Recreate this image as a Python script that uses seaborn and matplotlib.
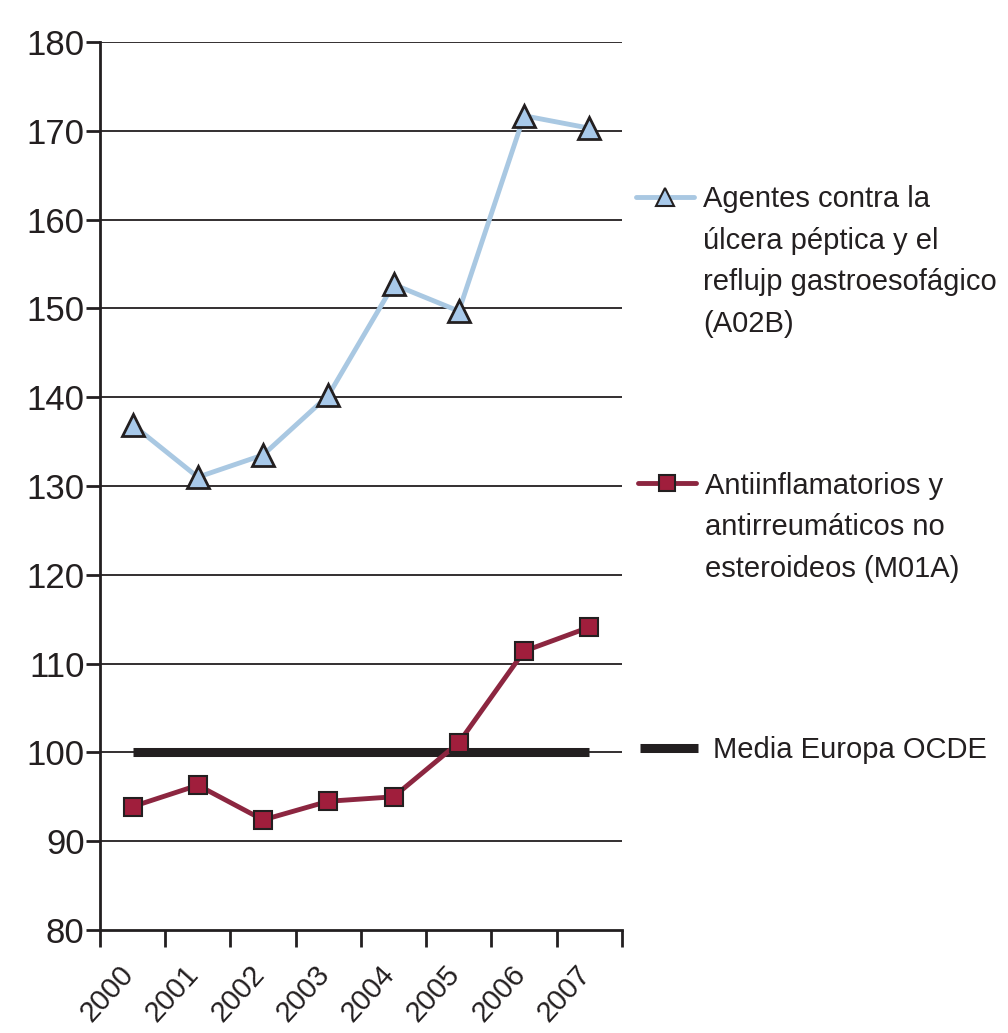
import numpy as np
import pandas as pd
import matplotlib
matplotlib.use("Agg")
import matplotlib.pyplot as plt
import matplotlib.transforms as mtransforms
from matplotlib.lines import Line2D
import seaborn as sns

# data
years = ["2000", "2001", "2002", "2003", "2004", "2005", "2006", "2007"]
a02b = [136.9, 131.0, 133.5, 140.2, 152.7, 149.7, 171.7, 170.3]
m01a = [93.9, 96.3, 92.4, 94.5, 95.0, 101.1, 111.4, 114.1]
media = [100, 100, 100, 100, 100, 100, 100, 100]
yticks = list(range(80, 181, 10))

label_a02b = ["Agentes contra la", "úlcera péptica y el",
              "reflujp gastroesofágico", "(A02B)"]
label_m01a = ["Antiinflamatorios y", "antirreumáticos no",
              "esteroideos (M01A)"]
label_media = ["Media Europa OCDE"]

blue_line = "#a9c8e2"
blue_fill = "#a8c9ea"
red_line = "#8c2640"
red_fill = "#a01e3c"
dark = "#231f20"

sns.set_style("white")
plt.rcParams["font.family"] = ["Liberation Sans", "DejaVu Sans"]

df = pd.DataFrame({"year": years, "A02B": a02b, "M01A": m01a, "media": media})
df["x"] = np.arange(len(years))

fig = plt.figure(figsize=(10.08, 10.33), dpi=100)
ax = fig.add_axes([0.0992, 0.0997, 0.5178, 0.8596])

sns.lineplot(data=df, x="x", y="media", ax=ax, color=dark, linewidth=6.5,
             solid_capstyle="butt", zorder=2)
sns.lineplot(data=df, x="x", y="A02B", ax=ax, color=blue_line, linewidth=3.5,
             marker="^", markersize=16, markerfacecolor=blue_fill,
             markeredgecolor=dark, markeredgewidth=2, zorder=3)
sns.lineplot(data=df, x="x", y="M01A", ax=ax, color=red_line, linewidth=3.5,
             marker="s", markersize=13, markerfacecolor=red_fill,
             markeredgecolor=dark, markeredgewidth=1.5, zorder=3)

ax.set_xlim(-0.5, len(years) - 0.5)
ax.set_ylim(80, 180)
ax.set_yticks(yticks)
ax.set_yticklabels([str(v) for v in yticks], fontsize=25)
for v in yticks[1:]:
    ax.axhline(v, color=dark, linewidth=1.3, zorder=1)

ax.set_xticks(np.arange(len(years)))
ax.set_xticklabels(years, rotation=48, ha="right", va="top",
                   rotation_mode="anchor", fontsize=21)
ax.tick_params(axis="x", which="major", bottom=True, length=0, pad=22)
shift = mtransforms.ScaledTranslation(-14 / 100, 0, fig.dpi_scale_trans)
for lbl in ax.get_xticklabels():
    lbl.set_transform(lbl.get_transform() + shift)
ax.set_xticks(np.arange(len(years) + 1) - 0.5, minor=True)
ax.tick_params(axis="x", which="minor", bottom=True, length=12, width=2,
               color=dark, direction="out")
ax.tick_params(axis="y", left=True, length=10, width=2, color=dark,
               direction="out", pad=1)
ax.set_xlabel("")
ax.set_ylabel("")
for s in ["top", "right"]:
    ax.spines[s].set_visible(False)
for s in ["left", "bottom"]:
    ax.spines[s].set_color(dark)
    ax.spines[s].set_linewidth(2)

# legend entries: handle with first line, extra lines as text under it
entries = [
    (Line2D([], [], color=blue_line, linewidth=3.5, marker="^", markersize=13,
            markerfacecolor=blue_fill, markeredgecolor=dark, markeredgewidth=1.5),
     label_a02b, 0.631, 0.807, 0.3),
    (Line2D([], [], color=red_line, linewidth=3.5, marker="s", markersize=11,
            markerfacecolor=red_fill, markeredgecolor=dark, markeredgewidth=1.5),
     label_m01a, 0.633, 0.530, 0.3),
    (Line2D([], [], color=dark, linewidth=6.5, solid_capstyle="butt"),
     label_media, 0.635, 0.274, 0.5),
]
legs = []
for handle, lines, xpos, ypos, tpad in entries:
    leg = fig.legend([handle], [lines[0]], loc="center left",
                     bbox_to_anchor=(xpos, ypos), frameon=False,
                     fontsize=21, handlelength=2.0, handletextpad=tpad,
                     borderpad=0, borderaxespad=0, labelcolor=dark)
    legs.append((leg, lines))

fig.canvas.draw()
renderer = fig.canvas.get_renderer()
for leg, lines in legs:
    t = leg.get_texts()[0]
    bb = t.get_window_extent(renderer)
    for i, extra in enumerate(lines[1:], start=1):
        fig.text(bb.x0 / fig.dpi / fig.get_figwidth(),
                 (bb.y0 - i * 41.5) / fig.dpi / fig.get_figheight(),
                 extra, fontsize=21, ha="left", va="bottom", color=dark)

for lbl in ax.get_yticklabels() + ax.get_xticklabels():
    lbl.set_color(dark)

fig.savefig("out.png", dpi=100)
